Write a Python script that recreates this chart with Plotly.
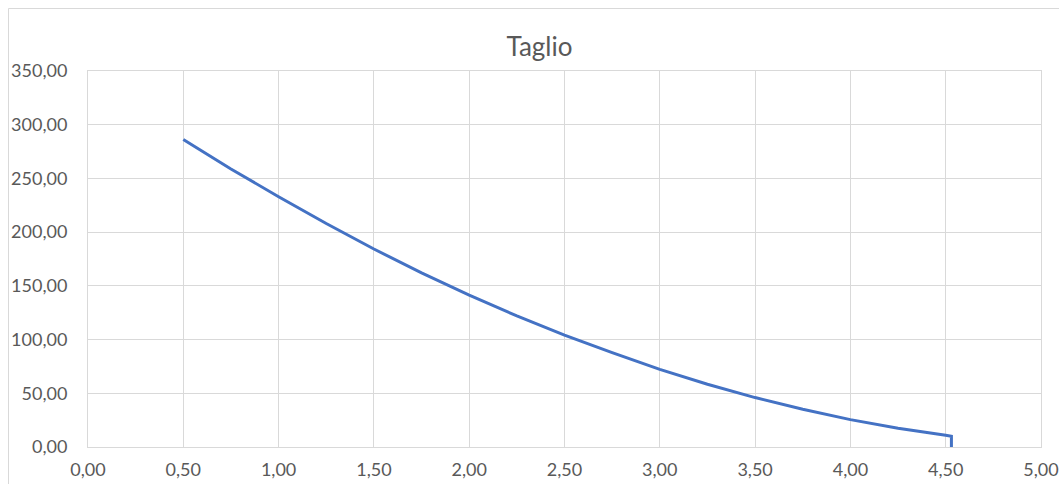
import plotly.graph_objects as go

# Shear diagram ("Taglio") along the beam
x_pos = [0.50, 0.75, 1.00, 1.25, 1.50, 1.75, 2.00, 2.25, 2.50, 2.75,
         3.00, 3.25, 3.50, 3.75, 4.00, 4.25, 4.50, 4.53, 4.53]
shear = [286.2, 258.8, 233.0, 208.0, 184.3, 162.1, 141.3, 122.0, 104.2, 87.8,
         72.3, 58.4, 46.0, 35.1, 25.5, 17.4, 10.9, 10.0, 0.0]

x_ticks = [0.0, 0.5, 1.0, 1.5, 2.0, 2.5, 3.0, 3.5, 4.0, 4.5, 5.0]
y_ticks = [0, 50, 100, 150, 200, 250, 300, 350]

FONT = "Lato"
TEXT = "#595959"
GRID = "#d9d9d9"
LINE = "#4472C4"

fig = go.Figure()
fig.add_trace(go.Scatter(
    x=x_pos, y=shear, mode="lines",
    line=dict(color=LINE, width=3),
    hoverinfo="x+y", showlegend=False,
))

axis_common = dict(
    showgrid=True, gridcolor=GRID, gridwidth=1,
    showline=True, linecolor=GRID, linewidth=1, mirror=True,
    zeroline=False, ticks="", tickformat=".2f", automargin=False,
    tickfont=dict(family=FONT, size=18, color=TEXT),
)

fig.update_layout(
    width=1059, height=484,
    margin=dict(l=88, r=18, t=71, b=37, pad=0),
    paper_bgcolor="white", plot_bgcolor="white",
    separators=",.",
    title=dict(
        text="Taglio", x=539.5 / 1059, xref="container", xanchor="center",
        y=1 - 47 / 484, yref="container", yanchor="middle",
        font=dict(family=FONT, size=26, color=TEXT),
    ),
    xaxis=dict(range=[0, 5], tickvals=x_ticks, ticklabelstandoff=6, **axis_common),
    yaxis=dict(range=[0, 350], tickvals=y_ticks, ticklabelstandoff=16, **axis_common),
    shapes=[dict(
        type="rect", xref="paper", yref="paper",
        x0=(8.5 - 88) / 953, x1=1.06, y0=-0.3, y1=(447 - 8.5) / 376,
        line=dict(color=GRID, width=1), fillcolor="rgba(0,0,0,0)", layer="below",
    )],
)

fig.write_html("out.html")
